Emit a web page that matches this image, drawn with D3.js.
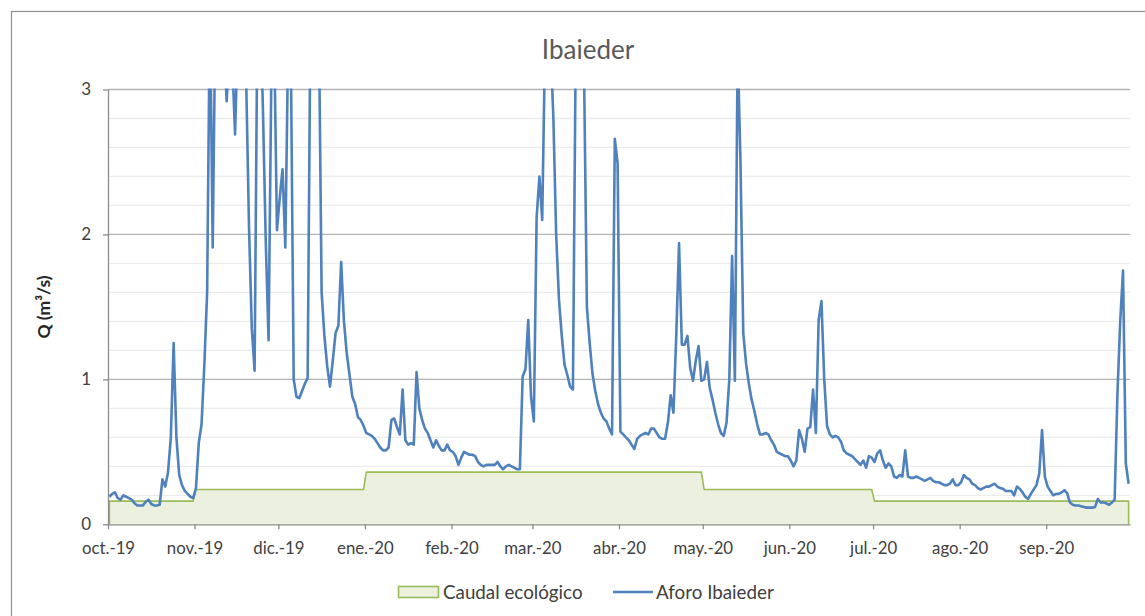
<!DOCTYPE html>
<html>
<head>
<meta charset="utf-8">
<script src="https://cdn.jsdelivr.net/npm/d3@7"></script>
<style>
  html, body { margin: 0; padding: 0; background: #fff; }
  svg { display: block; }
  text { font-family: Lato, "Open Sans", sans-serif; }
</style>
</head>
<body>
<svg id="chart" width="1145" height="616"></svg>
<script>
// ---------------- DATA ----------------
const chartTitle = "Ibaieder";
const yAxisTitle = "Q (m³/s)";
const seriesNames = ["Caudal ecológico", "Aforo Ibaieder"];
const monthLabels = ["oct.-19","nov.-19","dic.-19","ene.-20","feb.-20","mar.-20","abr.-20","may.-20","jun.-20","jul.-20","ago.-20","sep.-20"];
const yTickValues = [0, 1, 2, 3];
const startDate = new Date(2019, 9, 1);
const endDate = new Date(2020, 9, 1);
// ecological flow per month (oct..sep), m3/s
const caudalEcologicoMes = [0.16, 0.24, 0.24, 0.36, 0.36, 0.36, 0.36, 0.24, 0.24, 0.16, 0.16, 0.16];
// daily gauged flow, m3/s (values above 3 are cut off by the axis)
const aforoOct = [0.19,0.21,0.22,0.18,0.17,0.20,0.19,0.18,0.17,0.145,0.13,0.13,0.13,0.155,0.17,0.14,0.13,0.13,0.135,0.31,0.26,0.36,0.6,1.25,0.6,0.34,0.27,0.23,0.21,0.19,0.18];
const aforoNov = [0.25,0.56,0.69,1.1,1.6,3.6,1.91,3.6,3.4,3.5,3.3,2.92,3.3,3.2,2.69,3.4,3.5,3.3,3.05,2.05,1.35,1.06,3.5,3.6,2.85,1.95,1.27,3.1,3.4,2.03];
const aforoDic = [2.25,2.45,1.91,3.3,3.2,1.0,0.88,0.87,0.92,0.97,1.01,3.5,4.0,3.5,3.5,1.6,1.3,1.09,0.95,1.13,1.32,1.37,1.81,1.4,1.18,1.03,0.88,0.83,0.74,0.72,0.68];
const aforoEne = [0.63,0.62,0.61,0.59,0.56,0.53,0.51,0.51,0.53,0.72,0.73,0.67,0.62,0.93,0.58,0.55,0.56,0.55,1.05,0.80,0.72,0.66,0.63,0.58,0.53,0.58,0.54,0.51,0.51,0.55,0.51];
const aforoFeb = [0.50,0.47,0.41,0.46,0.50,0.49,0.48,0.48,0.47,0.43,0.41,0.40,0.41,0.41,0.41,0.41,0.43,0.40,0.38,0.40,0.41,0.40,0.39,0.38,0.38,1.02,1.07,1.41,0.88];
const aforoMar = [0.71,2.12,2.40,2.10,3.3,3.5,3.3,2.8,2.0,1.55,1.3,1.1,1.03,0.95,0.93,3.3,3.5,3.4,3.1,1.5,1.25,1.04,0.92,0.83,0.77,0.73,0.71,0.66,0.62,2.66,2.49];
const aforoAbr = [0.64,0.62,0.60,0.58,0.55,0.52,0.59,0.61,0.62,0.63,0.62,0.66,0.66,0.63,0.60,0.59,0.59,0.70,0.89,0.77,1.3,1.94,1.24,1.24,1.30,1.08,0.99,1.13,1.23,0.99];
const aforoMay = [1.0,1.12,0.94,0.86,0.77,0.69,0.63,0.61,0.70,1.0,1.85,0.99,3.3,2.5,1.32,1.11,0.97,0.86,0.78,0.69,0.62,0.62,0.63,0.62,0.58,0.55,0.50,0.49,0.48,0.47,0.47];
const aforoJun = [0.44,0.40,0.44,0.65,0.59,0.50,0.66,0.67,0.93,0.63,1.41,1.54,1.0,0.68,0.62,0.60,0.61,0.60,0.57,0.51,0.49,0.48,0.47,0.45,0.43,0.41,0.44,0.39,0.47,0.46];
const aforoJul = [0.43,0.49,0.51,0.44,0.39,0.42,0.40,0.33,0.32,0.34,0.33,0.51,0.33,0.32,0.32,0.33,0.32,0.31,0.30,0.31,0.32,0.30,0.29,0.29,0.28,0.27,0.27,0.28,0.31,0.27,0.27];
const aforoAgo = [0.29,0.34,0.32,0.31,0.28,0.27,0.25,0.24,0.25,0.26,0.26,0.27,0.28,0.26,0.25,0.245,0.23,0.23,0.23,0.20,0.26,0.245,0.22,0.19,0.175,0.21,0.24,0.27,0.35,0.65,0.33];
const aforoSep = [0.26,0.23,0.20,0.21,0.21,0.22,0.235,0.215,0.15,0.135,0.13,0.13,0.125,0.12,0.115,0.115,0.115,0.12,0.175,0.15,0.15,0.145,0.135,0.15,0.17,0.9,1.4,1.75,0.42,0.28];
const aforoMeses = [aforoOct, aforoNov, aforoDic, aforoEne, aforoFeb, aforoMar, aforoAbr, aforoMay, aforoJun, aforoJul, aforoAgo, aforoSep];

// ---------------- BUILD ROWS ----------------
const months = d3.timeMonth.range(startDate, endDate);
const rows = [];
months.forEach((m, i) => {
  const days = d3.timeDay.range(m, d3.timeMonth.offset(m, 1));
  days.forEach((day, j) => {
    rows.push({ date: d3.timeHour.offset(day, 12), q: aforoMeses[i][j], eco: caudalEcologicoMes[i] });
  });
});

// ---------------- LAYOUT ----------------
const svg = d3.select("#chart");
const plot = { left: 108, right: 1130, top: 89.5, bottom: 524.3 };
const x = d3.scaleTime().domain([startDate, endDate]).range([plot.left, plot.right]);
const y = d3.scaleLinear().domain([0, 3]).range([plot.bottom, plot.top]);

// chart border
svg.append("rect").attr("x", 11.5).attr("y", 11.5).attr("width", 1160).attr("height", 700)
  .attr("fill", "#fff").attr("stroke", "#8f8f8f").attr("stroke-width", 1.2);

// minor gridlines
const minor = d3.range(0.2, 3.0001, 0.2).filter(v => Math.abs(v - Math.round(v)) > 1e-6);
svg.append("g").selectAll("line").data(minor).join("line")
  .attr("x1", plot.left).attr("x2", plot.right)
  .attr("y1", d => y(d)).attr("y2", d => y(d))
  .attr("stroke", "#ececec").attr("stroke-width", 1.3);
// major gridlines
svg.append("g").selectAll("line").data(yTickValues.filter(v => v > 0)).join("line")
  .attr("x1", plot.left).attr("x2", plot.right)
  .attr("y1", d => y(d)).attr("y2", d => y(d))
  .attr("stroke", "#b3b3b3").attr("stroke-width", 1.3);

// clip
svg.append("clipPath").attr("id", "clip").append("rect")
  .attr("x", plot.left).attr("y", plot.top - 1)
  .attr("width", plot.right - plot.left).attr("height", plot.bottom - plot.top + 1);

// ecological flow area
const ecoArea = d3.area().x(d => x(d.date)).y0(y(0)).y1(d => y(d.eco));
const ecoPts = [{ date: rows[0].date, eco: 0 }, ...rows, { date: rows[rows.length - 1].date, eco: 0 }];
svg.append("path").datum(rows).attr("d", ecoArea)
  .attr("fill", "#ebf1de").attr("stroke", "none");
svg.append("path").datum(ecoPts)
  .attr("d", d3.line().x(d => x(d.date)).y(d => y(d.eco)))
  .attr("fill", "none").attr("stroke", "#9bbb59").attr("stroke-width", 1.6)
  .attr("stroke-linejoin", "round");

// flow line
svg.append("path").datum(rows).attr("clip-path", "url(#clip)")
  .attr("d", d3.line().x(d => x(d.date)).y(d => y(d.q)))
  .attr("fill", "none").attr("stroke", "#4f81bd").attr("stroke-width", 2.6)
  .attr("stroke-linejoin", "round");

// axes
const xAxis = d3.axisBottom(x).tickValues(months).tickSize(5).tickSizeOuter(0)
  .tickFormat((d, i) => monthLabels[i]);
const gx = svg.append("g").attr("transform", `translate(0,${plot.bottom})`).call(xAxis);
gx.select(".domain").attr("stroke", "#8c8c8c").attr("stroke-width", 1.3);
gx.selectAll(".tick line").attr("stroke", "#8c8c8c").attr("stroke-width", 1.3);
gx.selectAll(".tick text").attr("y", 30).attr("dy", null)
  .attr("font-size", 16.8).attr("fill", "#404040").attr("font-family", "Lato, sans-serif");

const yAxis = d3.axisLeft(y).tickValues(yTickValues).tickSize(5).tickSizeOuter(0).tickFormat(d3.format("d"));
const gy = svg.append("g").attr("transform", `translate(${plot.left},0)`).call(yAxis);
gy.select(".domain").attr("stroke", "#8c8c8c").attr("stroke-width", 1.3);
gy.selectAll(".tick line").attr("stroke", "#8c8c8c").attr("stroke-width", 1.3);
gy.selectAll(".tick text").attr("x", -17).attr("font-size", 17).attr("fill", "#404040")
  .attr("font-family", "Lato, sans-serif");

// title
svg.append("text").attr("x", 588).attr("y", 59).attr("text-anchor", "middle")
  .attr("font-size", 26).attr("fill", "#595959").text(chartTitle);

// y axis title
svg.append("text").attr("transform", "translate(50,307) rotate(-90)")
  .attr("text-anchor", "middle").attr("font-size", 17.5).attr("font-weight", "bold")
  .attr("fill", "#262626").text(yAxisTitle);

// legend
const lg = svg.append("g");
lg.append("rect").attr("x", 398.5).attr("y", 586.5).attr("width", 40).attr("height", 11)
  .attr("fill", "#ebf1de").attr("stroke", "#9bbb59").attr("stroke-width", 1.6);
lg.append("text").attr("x", 443).attr("y", 598.5).attr("font-size", 18.8).attr("fill", "#404040").text(seriesNames[0]);
lg.append("line").attr("x1", 613).attr("x2", 653).attr("y1", 592).attr("y2", 592)
  .attr("stroke", "#4f81bd").attr("stroke-width", 2.5);
lg.append("text").attr("x", 656).attr("y", 598.5).attr("font-size", 18.8).attr("fill", "#404040").text(seriesNames[1]);
</script>
</body>
</html>
